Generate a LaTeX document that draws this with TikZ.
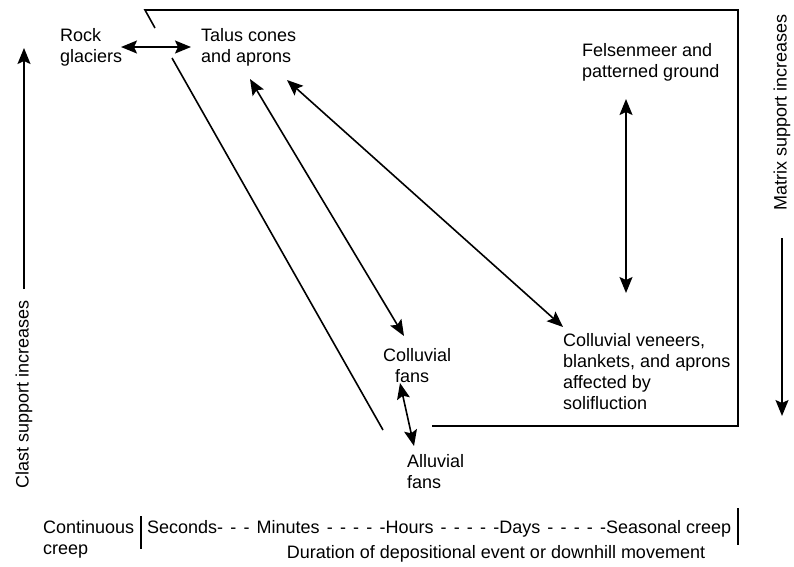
\documentclass[tikz,border=0pt]{standalone}
\usepackage{fontspec}
\setmainfont{Liberation Sans}
\usetikzlibrary{arrows.meta}
\begin{document}
\begin{tikzpicture}[x=1pt,y=-1pt,
  lbl/.style={inner sep=0pt,font=\fontsize{18}{21}\selectfont,align=left},
  ln/.style={line width=1.6pt},
  arr/.style={line width=1.6pt,-{Stealth[length=16pt,width=13pt,inset=3pt]}},
  darr/.style={line width=1.6pt,{Stealth[length=16pt,width=13pt,inset=3pt]}-{Stealth[length=16pt,width=13pt,inset=3pt]}}]
\useasboundingbox (0,0) rectangle (794,566);
% frame
\coordinate (f1) at (155,28);
\coordinate (f2) at (145,10);
\coordinate (f3) at (738,10);
\coordinate (f4) at (738,426);
\coordinate (f5) at (432,426);
\draw[ln] (f1) -- (f2) -- (f3) -- (f4) -- (f5);
\coordinate (d1) at (172,58);
\coordinate (d2) at (383,430);
\draw[ln] (d1) -- (d2);
% labels
\node[lbl,anchor=north west] (rock) at (60,28) {Rock\\glaciers};
\node[lbl,anchor=north west] (talus) at (201,28) {Talus cones\\and aprons};
\node[lbl,anchor=north west] (fels) at (582,43) {Felsenmeer and\\patterned ground};
\node[lbl,anchor=north west] (cfans) at (383,348) {Colluvial\\\hspace*{12pt}fans};
\node[lbl,anchor=north west] (afans) at (407,454) {Alluvial\\fans};
\node[lbl,anchor=north west] (cven) at (563,333) {Colluvial veneers,\\blankets, and aprons\\affected by\\solifluction};
% arrows
\coordinate (a1) at (121,47);
\coordinate (a2) at (191,47);
\draw[darr] (a1) -- (a2);
\coordinate (b1) at (250,79);
\coordinate (b2) at (404,336);
\draw[darr] (b1) -- (b2);
\coordinate (c1) at (287,80);
\coordinate (c2) at (563,327);
\draw[darr] (c1) -- (c2);
\coordinate (e1) at (626,99);
\coordinate (e2) at (626,293);
\draw[darr] (e1) -- (e2);
\coordinate (g1) at (400,383);
\coordinate (g2) at (414,446);
\draw[darr] (g1) -- (g2);
% side axes
\coordinate (l1) at (24,289);
\coordinate (l2) at (24,48);
\draw[arr] (l1) -- (l2);
\node[lbl,rotate=90] (clast) at (24,394) {Clast support increases};
\coordinate (r1) at (782,238);
\coordinate (r2) at (782,416);
\draw[arr] (r1) -- (r2);
\node[lbl,rotate=90] (matrix) at (782,112) {Matrix support increases};
% bottom scale
\node[lbl,anchor=north west] (cont) at (43,520) {Continuous\\creep};
\coordinate (s1) at (141,516);
\coordinate (s2) at (141,549);
\draw[ln] (s1) -- (s2);
\node[lbl,anchor=west] (scale) at (147,529) {\makebox[584pt][s]{Seconds-\hfill-\hfill-\hfill Minutes\hfill-\hfill-\hfill-\hfill-\hfill-Hours\hfill-\hfill-\hfill-\hfill-\hfill-Days\hfill-\hfill-\hfill-\hfill-\hfill-Seasonal creep}};
\coordinate (t1) at (738,508);
\coordinate (t2) at (738,545);
\draw[ln] (t1) -- (t2);
\node[lbl] (dur) at (496,554) {Duration of depositional event or downhill movement};
\end{tikzpicture}
\end{document}
